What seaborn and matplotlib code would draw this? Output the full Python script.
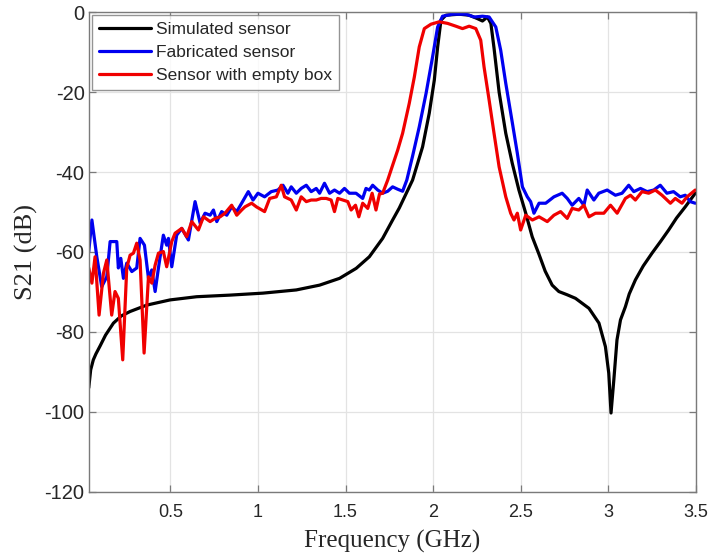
import matplotlib
import matplotlib.pyplot as plt
import pandas as pd
import seaborn as sns

matplotlib.use("Agg")

# frequency (GHz) / S21 (dB)
sim_freq = [0.034, 0.045, 0.06, 0.075, 0.099, 0.13, 0.175, 0.22, 0.27, 0.365, 0.498, 0.65,
            0.839, 1.029, 1.219, 1.352, 1.466, 1.561, 1.636, 1.712, 1.769, 1.807, 1.883,
            1.94, 1.978, 2.007, 2.026, 2.045, 2.073, 2.149, 2.206, 2.253, 2.282, 2.31,
            2.33, 2.348, 2.377, 2.415, 2.452, 2.49, 2.529, 2.566, 2.604, 2.64, 2.68,
            2.718, 2.765, 2.813, 2.89, 2.947, 2.984, 3.003, 3.016, 3.032, 3.05, 3.07,
            3.098, 3.12, 3.155, 3.2, 3.25, 3.3, 3.345, 3.39, 3.44, 3.497]
sim_s21 = [-94, -89.5, -87, -85.5, -83.5, -80.8, -77.8, -76, -74.9, -73.3, -72, -71.2,
           -70.8, -70.3, -69.5, -68.3, -66.6, -64.1, -61.2, -56.6, -52, -49, -42,
           -33.7, -25.3, -17, -8.7, -2, -0.75, -0.5, -0.75, -1.6, -2.2, -1.2,
           -2.8, -9, -20, -30.3, -37.8, -44.5, -50.3, -56.2, -60.5, -64.8, -68.3,
           -69.9, -70.7, -71.6, -74.1, -77.8, -83.7, -90.3, -100.3, -92, -82, -77,
           -73.7, -70.5, -67, -63.5, -60.3, -57.3, -54.5, -51.5, -48.7, -45.3]

fab_freq = [0.034, 0.052, 0.080, 0.108, 0.137, 0.156, 0.194, 0.203, 0.217, 0.232, 0.251,
            0.280, 0.308, 0.327, 0.352, 0.375, 0.394, 0.413, 0.432, 0.460, 0.479, 0.489,
            0.508, 0.536, 0.565, 0.603, 0.641, 0.670, 0.698, 0.727, 0.746, 0.765, 0.793,
            0.822, 0.850, 0.879, 0.907, 0.945, 0.972, 1.000, 1.038, 1.076, 1.114, 1.143,
            1.171, 1.190, 1.219, 1.247, 1.276, 1.304, 1.333, 1.352, 1.380, 1.409, 1.437,
            1.466, 1.494, 1.522, 1.560, 1.598, 1.617, 1.636, 1.655, 1.684, 1.712, 1.741,
            1.769, 1.798, 1.826, 1.850, 1.883, 1.921, 1.960, 1.997, 2.026, 2.054, 2.111,
            2.187, 2.235, 2.282, 2.320, 2.358, 2.386, 2.415, 2.453, 2.481, 2.510, 2.538,
            2.557, 2.576, 2.605, 2.643, 2.690, 2.737, 2.766, 2.794, 2.832, 2.861, 2.880,
            2.918, 2.946, 2.994, 3.041, 3.079, 3.117, 3.146, 3.184, 3.222, 3.260, 3.297,
            3.335, 3.373, 3.411, 3.440, 3.468, 3.497]
fab_s21 = [-59.9, -52, -61.2, -68.7, -66.2, -57.4, -57.4, -64, -61.6, -66.6, -62.8,
           -64.9, -64, -56.6, -58.3, -66.6, -64.5, -69.9, -64, -55.8, -58.3, -56.6,
           -63.7, -55.8, -54.1, -57, -47.4, -52.8, -50.3, -50.8, -49.5, -52.4, -49.9,
           -50.8, -48.7, -49.9, -47.8, -44.9, -47, -45.3, -46.2, -44.9, -44.5, -43.3,
           -45.3, -43.7, -45.3, -44.1, -43.3, -44.9, -44.1, -45.3, -42.8, -45.3, -44.5,
           -45.3, -44.1, -45.3, -45.3, -46.6, -44.1, -44.5, -43.3, -44.5, -45.3, -44.8,
           -43.7, -44.3, -44.8, -42, -36, -28.7, -20.3, -11.2, -3.7, -1, -0.5,
           -0.5, -1.2, -1, -1.2, -3.7, -9.5, -17.8, -27.8, -35.3, -43.7, -46.2,
           -47.4, -50.3, -47.8, -47.8, -46.2, -45.3, -46.6, -48.3, -46.6, -48.3, -44.5,
           -47, -45.3, -44.5, -45.8, -45.3, -43.3, -44.9, -44.1, -44.9, -44.5, -43.3,
           -45.3, -44.9, -46.2, -45.8, -47.4, -47.8]

box_freq = [0.034, 0.052, 0.070, 0.093, 0.118, 0.137, 0.165, 0.184, 0.203, 0.228, 0.251,
            0.270, 0.289, 0.308, 0.327, 0.350, 0.375, 0.394, 0.413, 0.432, 0.460, 0.479,
            0.508, 0.527, 0.565, 0.593, 0.622, 0.660, 0.689, 0.727, 0.755, 0.784, 0.812,
            0.850, 0.879, 0.907, 0.926, 0.964, 0.991, 1.038, 1.067, 1.105, 1.133, 1.152,
            1.190, 1.219, 1.247, 1.276, 1.304, 1.333, 1.361, 1.390, 1.418, 1.437, 1.456,
            1.485, 1.513, 1.532, 1.557, 1.576, 1.598, 1.627, 1.652, 1.674, 1.694, 1.712,
            1.741, 1.769, 1.798, 1.826, 1.864, 1.893, 1.921, 1.950, 1.988, 2.035, 2.083,
            2.130, 2.168, 2.206, 2.244, 2.272, 2.291, 2.320, 2.348, 2.377, 2.415, 2.443,
            2.462, 2.481, 2.500, 2.529, 2.567, 2.605, 2.652, 2.690, 2.728, 2.766, 2.794,
            2.832, 2.861, 2.890, 2.927, 2.975, 3.013, 3.051, 3.098, 3.127, 3.155, 3.193,
            3.231, 3.269, 3.307, 3.355, 3.383, 3.421, 3.450, 3.497]
box_s21 = [-64, -67.8, -61.2, -75.8, -65.3, -62, -75.8, -69.9, -71.6, -87, -64,
           -60.8, -60.3, -57.8, -62, -85.3, -66.2, -67.8, -63.3, -60.3, -59.9, -63.7,
           -57.4, -55.3, -54.1, -56.2, -52.4, -54.5, -51.2, -52.4, -51.6, -51.2, -50.3,
           -48.3, -50.8, -49.5, -48.7, -47.8, -48.7, -49.9, -46.6, -46.2, -43.3, -46.2,
           -47, -49.5, -46.2, -47.4, -47, -47, -46.6, -46.6, -47, -49.9, -46.6,
           -47, -47.4, -49.5, -48.3, -51.2, -47.8, -49.1, -45.3, -49.5, -45.5, -45.3,
           -42, -38.3, -34.5, -30.3, -22.8, -16.2, -8.7, -4.1, -3, -2.4, -2.8,
           -3.5, -4.1, -3.5, -4.1, -7, -13.7, -22, -30.3, -38.7, -46.2, -50.3,
           -52, -50.3, -54.5, -50.8, -52, -51.2, -52.4, -50.8, -49.9, -51.6, -49.1,
           -49.5, -48.3, -51.2, -50.3, -50.3, -48.3, -50.3, -46.6, -45.8, -47, -44.9,
           -45.3, -44.5, -45.8, -47.8, -46.6, -47.8, -46.2, -44.5]

labels = ["Simulated sensor", "Fabricated sensor", "Sensor with empty box"]
colors = ["#000000", "#0000f0", "#f00000"]
x_ticks = [0.5, 1, 1.5, 2, 2.5, 3, 3.5]
y_ticks = [0, -20, -40, -60, -80, -100, -120]

frames = []
for label, f, s in zip(labels, (sim_freq, fab_freq, box_freq), (sim_s21, fab_s21, box_s21)):
    frames.append(pd.DataFrame({"freq": f, "s21": s, "curve": label}))
data = pd.concat(frames, ignore_index=True)

sns.set_theme(style="white")
plt.rcParams["font.family"] = ["Liberation Sans", "DejaVu Sans"]

fig = plt.figure(figsize=(7.1, 5.55), dpi=100)
ax = fig.add_axes([0.125, 0.114, 0.855, 0.864])
sns.lineplot(data=data, x="freq", y="s21", hue="curve", palette=dict(zip(labels, colors)),
             hue_order=labels, linewidth=2.3, sort=False, estimator=None, ax=ax)

ax.set_xlim(0.034, 3.5)
ax.set_ylim(-120, 0)
ax.set_xticks(x_ticks)
ax.set_xticklabels(["0.5", "1", "1.5", "2", "2.5", "3", "3.5"], fontsize=13)
ax.set_yticks(y_ticks)
ax.set_yticklabels([str(v) for v in y_ticks], fontsize=14.5)
ax.grid(True, color="#e3e3e3", linewidth=0.9)
ax.tick_params(direction="in", length=5, width=0.9, color="#7a7a7a",
               top=True, right=True, bottom=True, left=True, labelcolor="#262626")
ax.tick_params(axis="x", pad=9)
ax.tick_params(axis="y", pad=3)
for spine in ax.spines.values():
    spine.set_color("#7a7a7a")
    spine.set_linewidth(1.0)
ax.set_xlabel("Frequency (GHz)", family="Liberation Serif", fontsize=18, color="#262626",
              labelpad=6)
ax.set_ylabel("S21 (dB)", family="Liberation Serif", fontsize=19, color="#262626",
              labelpad=5)

leg = ax.legend(loc="upper left", bbox_to_anchor=(0.005, 0.995), borderaxespad=0,
                fontsize=12.5, frameon=True, fancybox=False, handlelength=3.0,
                labelspacing=0.45, borderpad=0.4, handletextpad=0.3)
leg.get_frame().set_edgecolor("#7a7a7a")
leg.get_frame().set_linewidth(1.0)
for line in leg.get_lines():
    line.set_linewidth(2.3)

fig.savefig("out.png", dpi=100)
plt.close(fig)
